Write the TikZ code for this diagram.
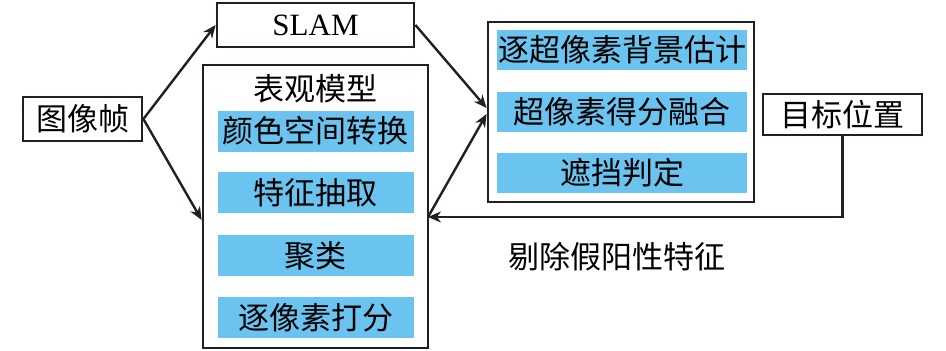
\documentclass[tikz,border=0pt]{standalone}
\usepackage{fontspec}
\setmainfont{Liberation Serif}
\newfontfamily\cjk{Noto Sans CJK SC}
\usepackage{tikz}
\usetikzlibrary{arrows.meta, positioning}
\definecolor{mydark}{RGB}{35,31,32}
\definecolor{myblue}{RGB}{106,196,239}
\tikzset{
  box/.style={rectangle, draw=mydark, fill=white, line width=1.4pt,
    inner sep=0pt, font=\cjk\fontsize{15.5}{18}\selectfont},
  bar/.style={rectangle, fill=myblue, inner sep=0pt,
    minimum width=98pt, minimum height=20.5pt,
    font=\cjk\fontsize{15.5}{18}\selectfont},
  rbar/.style={bar, minimum width=125pt, minimum height=20pt},
  label/.style={font=\cjk\fontsize{15.5}{18}\selectfont, inner sep=0pt},
  arrow/.style={-{Stealth[length=6.5pt,width=5.5pt]}, line width=1.2pt, color=mydark},
  line/.style={line width=1.2pt, color=mydark}
}

\begin{document}
\begin{tikzpicture}[x=0.5pt, y=-0.5pt]
  \useasboundingbox (0,0) rectangle (946,350);
  % Input and SLAM
  \node[box, minimum width=59.5pt, minimum height=22pt] (frame) at (82.5,119) {图像帧};
  \node[box, minimum width=98.5pt, minimum height=22pt, font=\fontsize{15.5}{18}\selectfont] (slam) at (315.5,25) {SLAM};
  % Appearance model
  \node[box, minimum width=112.5pt, minimum height=141.5pt] (appear) at (315.5,206.5) {};
  \node[label] (appeartitle) at (315.5,89) {表观模型};
  \node[bar] (color) at (315.5,131) {颜色空间转换};
  \node[bar] (feat) at (315.5,192.5) {特征抽取};
  \node[bar] (clust) at (315.5,255.5) {聚类};
  \node[bar] (pxscore) at (315.5,317.5) {逐像素打分};
  % Superpixel stage
  \node[box, minimum width=133pt, minimum height=90pt] (super) at (621,112) {};
  \node[rbar] (bgest) at (622,50) {逐超像素背景估计};
  \node[rbar] (fuse) at (622,112) {超像素得分融合};
  \node[rbar] (occl) at (622,173) {遮挡判定};
  % Target position
  \node[box, minimum width=79.5pt, minimum height=20.5pt] (target) at (842.5,114.5) {目标位置};
  % Connectors
  \draw[arrow] (frame.east) -- (slam.west);
  \draw[arrow] (frame.east) -- ([yshift=-6.75pt]appear.west);
  \draw[arrow] (slam.east) -- ([yshift=2pt]super.west);
  \coordinate (back) at (428,217);
  \draw[arrow] (back) -- ([yshift=-1pt]super.west);
  \draw[arrow] (target.south) |- (back);
  \node[label] (reject) at (617,257) {剔除假阳性特征};
\end{tikzpicture}
\end{document}
